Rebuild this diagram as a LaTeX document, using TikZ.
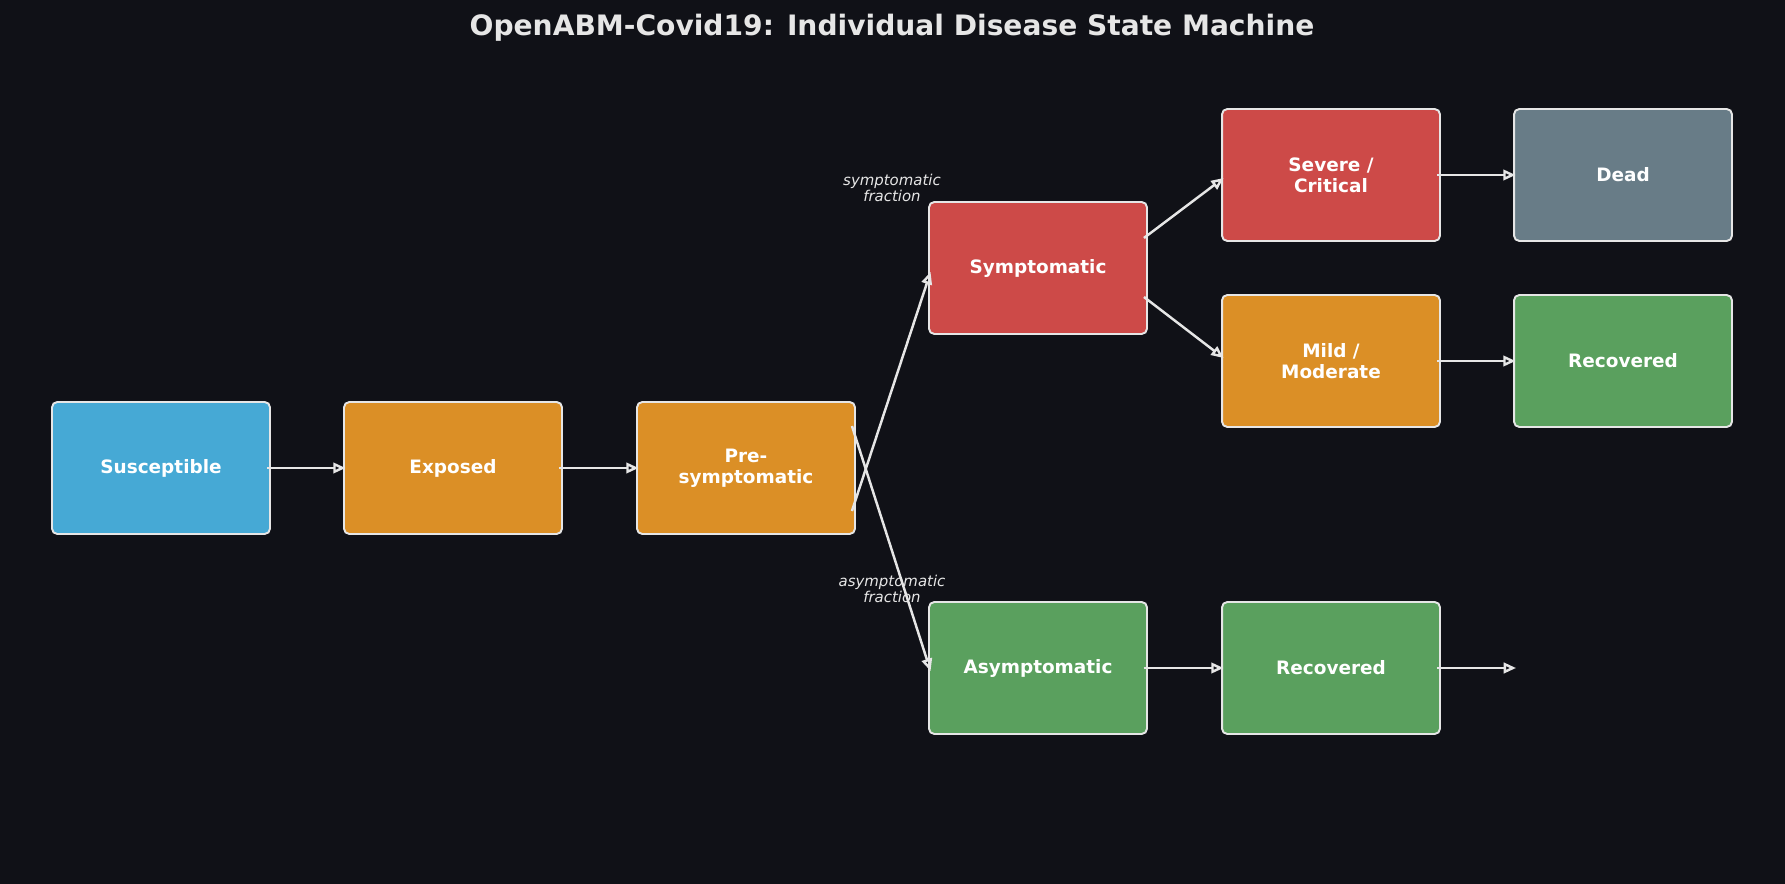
\documentclass[tikz,border=0pt]{standalone}
\usepackage{fontspec}
\setmainfont{DejaVu Sans}
\usetikzlibrary{arrows.meta}
\definecolor{bg}{HTML}{101117}
\definecolor{cblue}{HTML}{46A9D5}
\definecolor{corange}{HTML}{DB8F26}
\definecolor{cred}{HTML}{CD4A48}
\definecolor{cgray}{HTML}{687C87}
\definecolor{cgreen}{HTML}{5AA05E}
\definecolor{fg}{HTML}{E6E6E6}
\begin{document}
\begin{tikzpicture}[x=0.02cm,y=-0.02cm,
 box/.style={draw=fg,line width=1.1pt,rounded corners=3pt,minimum width=4.36cm,minimum height=2.64cm,text=white,font=\fontsize{10.5}{12}\selectfont\bfseries,align=center},
 arr/.style={draw=fg,line width=1.4pt,-{Stealth[length=7pt,width=6pt,inset=0pt,open]}},
 lab/.style={text=fg,font=\fontsize{8.5}{9.5}\selectfont\itshape,align=center}]
\fill[bg] (0,0) rectangle (1785,884);
\useasboundingbox (0,0) rectangle (1785,884);
\node[text=fg,font=\fontsize{16}{18}\selectfont\bfseries] (title) at (892,28) {OpenABM-Covid19: Individual Disease State Machine};
\node[box,fill=cblue] (s) at (161,468) {Susceptible};
\node[box,fill=corange] (e) at (453,468) {Exposed};
\node[box,fill=corange] (p) at (746,468) {Pre-\\symptomatic};
\node[box,fill=cred] (sy) at (1038,268) {Symptomatic};
\node[box,fill=cred] (sev) at (1331,175) {Severe /\\Critical};
\node[box,fill=cgray] (d) at (1623,175) {Dead};
\node[box,fill=corange] (m) at (1331,361) {Mild /\\Moderate};
\node[box,fill=cgreen] (r1) at (1623,361) {Recovered};
\node[box,fill=cgreen] (a) at (1038,668) {Asymptomatic};
\node[box,fill=cgreen] (r2) at (1331,668) {Recovered};
\coordinate (end) at (1516,668);
\node[lab] (l1) at (892,188) {symptomatic\\fraction};
\node[lab] (l2) at (892,589) {asymptomatic\\fraction};
\draw[arr] ([xshift=-0.08cm]s.east) -- ([xshift=0.05cm]e.west);
\draw[arr] ([xshift=-0.08cm]e.east) -- ([xshift=0.05cm]p.west);
\draw[arr] ([xshift=-0.08cm,yshift=-0.86cm]p.east) -- ([xshift=0.05cm,yshift=-0.08cm]sy.west);
\draw[arr] ([xshift=-0.08cm,yshift=0.84cm]p.east) -- ([xshift=0.05cm,yshift=-0.06cm]a.west);
\draw[arr] ([xshift=-0.08cm,yshift=0.6cm]sy.east) -- ([xshift=0.05cm,yshift=-0.06cm]sev.west);
\draw[arr] ([xshift=-0.08cm,yshift=-0.58cm]sy.east) -- ([xshift=0.05cm,yshift=0.06cm]m.west);
\draw[arr] ([xshift=-0.08cm]sev.east) -- ([xshift=0.05cm]d.west);
\draw[arr] ([xshift=-0.08cm]m.east) -- ([xshift=0.05cm]r1.west);
\draw[arr] ([xshift=-0.08cm]a.east) -- ([xshift=0.05cm]r2.west);
\draw[arr] ([xshift=-0.08cm]r2.east) -- (end);
\end{tikzpicture}
\end{document}
